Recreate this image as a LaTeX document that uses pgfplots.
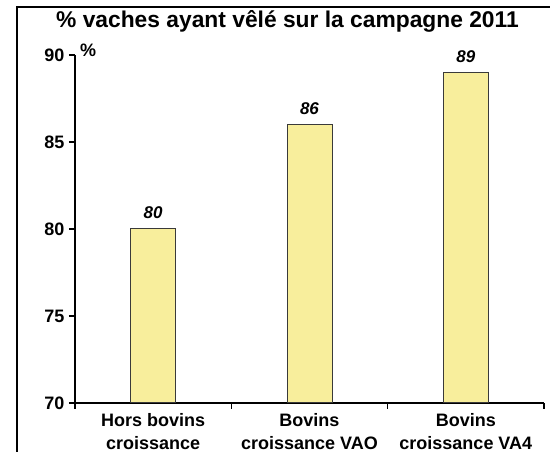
\documentclass[border=0pt]{standalone}
\usepackage{pgfplots}
\pgfplotsset{compat=1.18}
\usepackage{fontspec}
\setmainfont{Liberation Sans}
\definecolor{baryellow}{HTML}{F8EE9C}
\definecolor{barline}{HTML}{3A3A3A}
\begin{document}
\begin{tikzpicture}[x=1pt,y=1pt]
\useasboundingbox (0,0) rectangle (550,452);
\draw[line width=1.5pt] (17,0) -- (17,445) -- (550,445);
\node[font=\fontsize{22.8}{25}\selectfont\bfseries, anchor=base west, inner sep=0pt] at (56,424) {\% vaches ayant vêlé sur la campagne 2011};
\begin{axis}[
  at={(75pt,49pt)}, anchor=origin,
  scale only axis, width=469pt, height=348pt,
  xmin=0.5, xmax=3.5, ymin=70, ymax=90,
  axis lines*=left,
  axis line style={line width=1.4pt, black},
  ytick={70,75,80,85,90},
  xtick={1,2,3},
  xticklabels={{Hors bovins\\croissance},{Bovins\\croissance VAO},{Bovins\\croissance VA4}},
  minor xtick={0.5,1.5,2.5,3.5},
  tick align=outside,
  major tick length=6pt, minor tick length=6pt,
  x tick style={draw=none},
  minor x tick style={draw=black, line width=1.4pt},
  y tick style={black, line width=1.4pt},
  xticklabel style={align=center, font=\fontsize{18}{23}\selectfont\bfseries, yshift=-1pt},
  yticklabel style={font=\fontsize{18}{20}\selectfont\bfseries, xshift=-1pt},
  /pgf/number format/assume math mode=true,
  ybar, bar width=45pt,
  nodes near coords,
  nodes near coords style={font=\fontsize{17}{19}\selectfont\bfseries\itshape, anchor=base, inner sep=0pt, yshift=10pt},
  clip=false,
]
\addplot[fill=baryellow, draw=barline, line width=1pt] coordinates {(1,80) (2,86) (3,89)};
\end{axis}
\node[anchor=base west, inner sep=0pt] at (80,395) {\fontsize{18}{20}\selectfont\bfseries\%};
\end{tikzpicture}
\end{document}
